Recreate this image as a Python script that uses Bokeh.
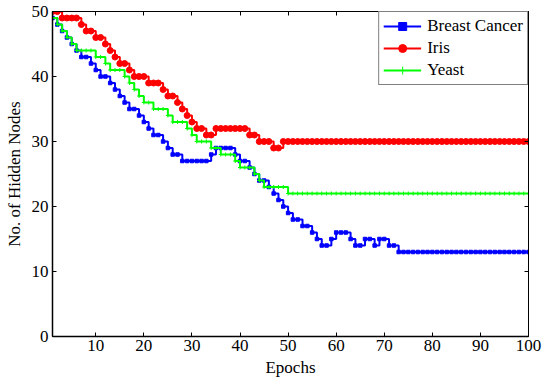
from bokeh.plotting import figure
from bokeh.models import Range1d, LinearAxis, FixedTicker, Legend, LegendItem
from bokeh.embed import file_html
from bokeh.resources import INLINE

# Number of hidden nodes kept after each training epoch
epochs = list(range(1, 101))

breast_cancer = [
    49, 48, 47, 46, 45, 44, 43, 43, 42, 41,
    40, 40, 39, 38, 37, 36, 35, 35, 34, 33,
    32, 31, 31, 30, 29, 28, 28, 27, 27, 27,
    27, 27, 27, 28, 29, 29, 29, 29, 28, 27,
    27, 26, 25, 24, 24, 23, 22, 21, 20, 19,
    18, 18, 17, 17, 16, 15, 14, 14, 15, 16,
    16, 16, 15, 14, 14, 15, 15, 14, 15, 15,
    14, 14, 13, 13, 13, 13, 13, 13, 13, 13,
    13, 13, 13, 13, 13, 13, 13, 13, 13, 13,
    13, 13, 13, 13, 13, 13, 13, 13, 13, 13,
]

iris = [
    50, 50, 49, 49, 49, 49, 48, 47, 47, 46,
    46, 45, 44, 43, 42, 42, 41, 40, 40, 40,
    39, 39, 39, 38, 37, 37, 36, 35, 34, 33,
    32, 32, 31, 31, 32, 32, 32, 32, 32, 32,
    32, 31, 31, 30, 30, 30, 29, 29, 30, 30,
    30, 30, 30, 30, 30, 30, 30, 30, 30, 30,
    30, 30, 30, 30, 30, 30, 30, 30, 30, 30,
    30, 30, 30, 30, 30, 30, 30, 30, 30, 30,
    30, 30, 30, 30, 30, 30, 30, 30, 30, 30,
    30, 30, 30, 30, 30, 30, 30, 30, 30, 30,
]

yeast = [
    49, 48, 47, 46, 45, 44, 44, 44, 44, 43,
    43, 42, 41, 41, 41, 40, 39, 38, 37, 36,
    36, 35, 35, 35, 34, 33, 33, 33, 32, 31,
    30, 30, 30, 29, 29, 28, 28, 28, 27, 26,
    26, 26, 25, 24, 23, 23, 23, 23, 23, 22,
    22, 22, 22, 22, 22, 22, 22, 22, 22, 22,
    22, 22, 22, 22, 22, 22, 22, 22, 22, 22,
    22, 22, 22, 22, 22, 22, 22, 22, 22, 22,
    22, 22, 22, 22, 22, 22, 22, 22, 22, 22,
    22, 22, 22, 22, 22, 22, 22, 22, 22, 22,
]

x_ticks = [10, 20, 30, 40, 50, 60, 70, 80, 90, 100]
y_ticks = [0, 10, 20, 30, 40, 50]

FONT = "Liberation Serif"
FS = "17px"

p = figure(
    width=542, height=381,
    x_range=Range1d(1, 100), y_range=Range1d(0, 50),
    output_backend="svg", toolbar_location=None,
    min_border_left=52, min_border_right=14,
    min_border_top=11, min_border_bottom=45,
    x_axis_label="Epochs", y_axis_label="No. of Hidden Nodes",
)
p.grid.visible = False
p.outline_line_color = "black"
p.outline_line_width = 1
p.background_fill_color = "white"
p.border_fill_color = "white"

for ax, ticks in ((p.xaxis[0], x_ticks), (p.yaxis[0], y_ticks)):
    ax.ticker = FixedTicker(ticks=ticks)
    ax.major_tick_in = 4
    ax.major_tick_out = 0
    ax.minor_tick_in = 0
    ax.minor_tick_out = 0
    ax.axis_line_color = "black"
    ax.axis_line_width = 1.5
    ax.major_tick_line_color = "black"
    ax.major_label_text_font = FONT
    ax.major_label_text_font_size = FS
    ax.major_label_text_color = "black"
    ax.axis_label_text_font = FONT
    ax.axis_label_text_font_size = FS
    ax.axis_label_text_font_style = "normal"
    ax.axis_label_text_color = "black"
p.xaxis[0].major_label_standoff = 3
p.xaxis[0].axis_label_standoff = 4
p.yaxis[0].major_label_standoff = 4
p.yaxis[0].axis_label_standoff = 5

# Mirror ticks on the top and right edges of the box (no labels there)
for side, ticks in (("above", x_ticks), ("right", y_ticks)):
    ax = LinearAxis(
        ticker=FixedTicker(ticks=ticks),
        major_tick_in=4, major_tick_out=0,
        minor_tick_in=0, minor_tick_out=0,
        major_label_overrides={t: "" for t in ticks},
        major_label_standoff=0,
        axis_line_color="black",
    )
    p.add_layout(ax, side)

r_bc = p.step(epochs, breast_cancer, mode="after", line_color="#0000FF", line_width=2)
m_bc = p.scatter(epochs, breast_cancer, marker="square", size=3.5,
                 fill_color="#0000FF", line_color="#0000FF")

r_ir = p.step(epochs, iris, mode="after", line_color="#FF0000", line_width=2)
m_ir = p.scatter(epochs, iris, marker="circle", size=6,
                 fill_color="#FF0000", line_color="#FF0000")

r_ye = p.step(epochs, yeast, mode="after", line_color="#00FF00", line_width=2)
m_ye = p.scatter(epochs, yeast, marker="cross", size=4,
                 line_color="#00FF00", line_width=1)

legend = Legend(
    items=[
        LegendItem(label="Breast Cancer", renderers=[r_bc, m_bc]),
        LegendItem(label="Iris", renderers=[r_ir, m_ir]),
        LegendItem(label="Yeast", renderers=[r_ye, m_ye]),
    ],
    location="top_right",
    margin=0,
    border_line_color="black",
    border_line_width=1,
    background_fill_color="white",
    background_fill_alpha=1,
    label_text_font=FONT,
    label_text_font_size=FS,
    label_text_color="black",
    glyph_width=38,
    glyph_height=20,
    label_height=20,
    label_standoff=6,
    spacing=2,
    padding=4,
)
p.add_layout(legend)

open("out.html", "w").write(file_html(p, INLINE))
